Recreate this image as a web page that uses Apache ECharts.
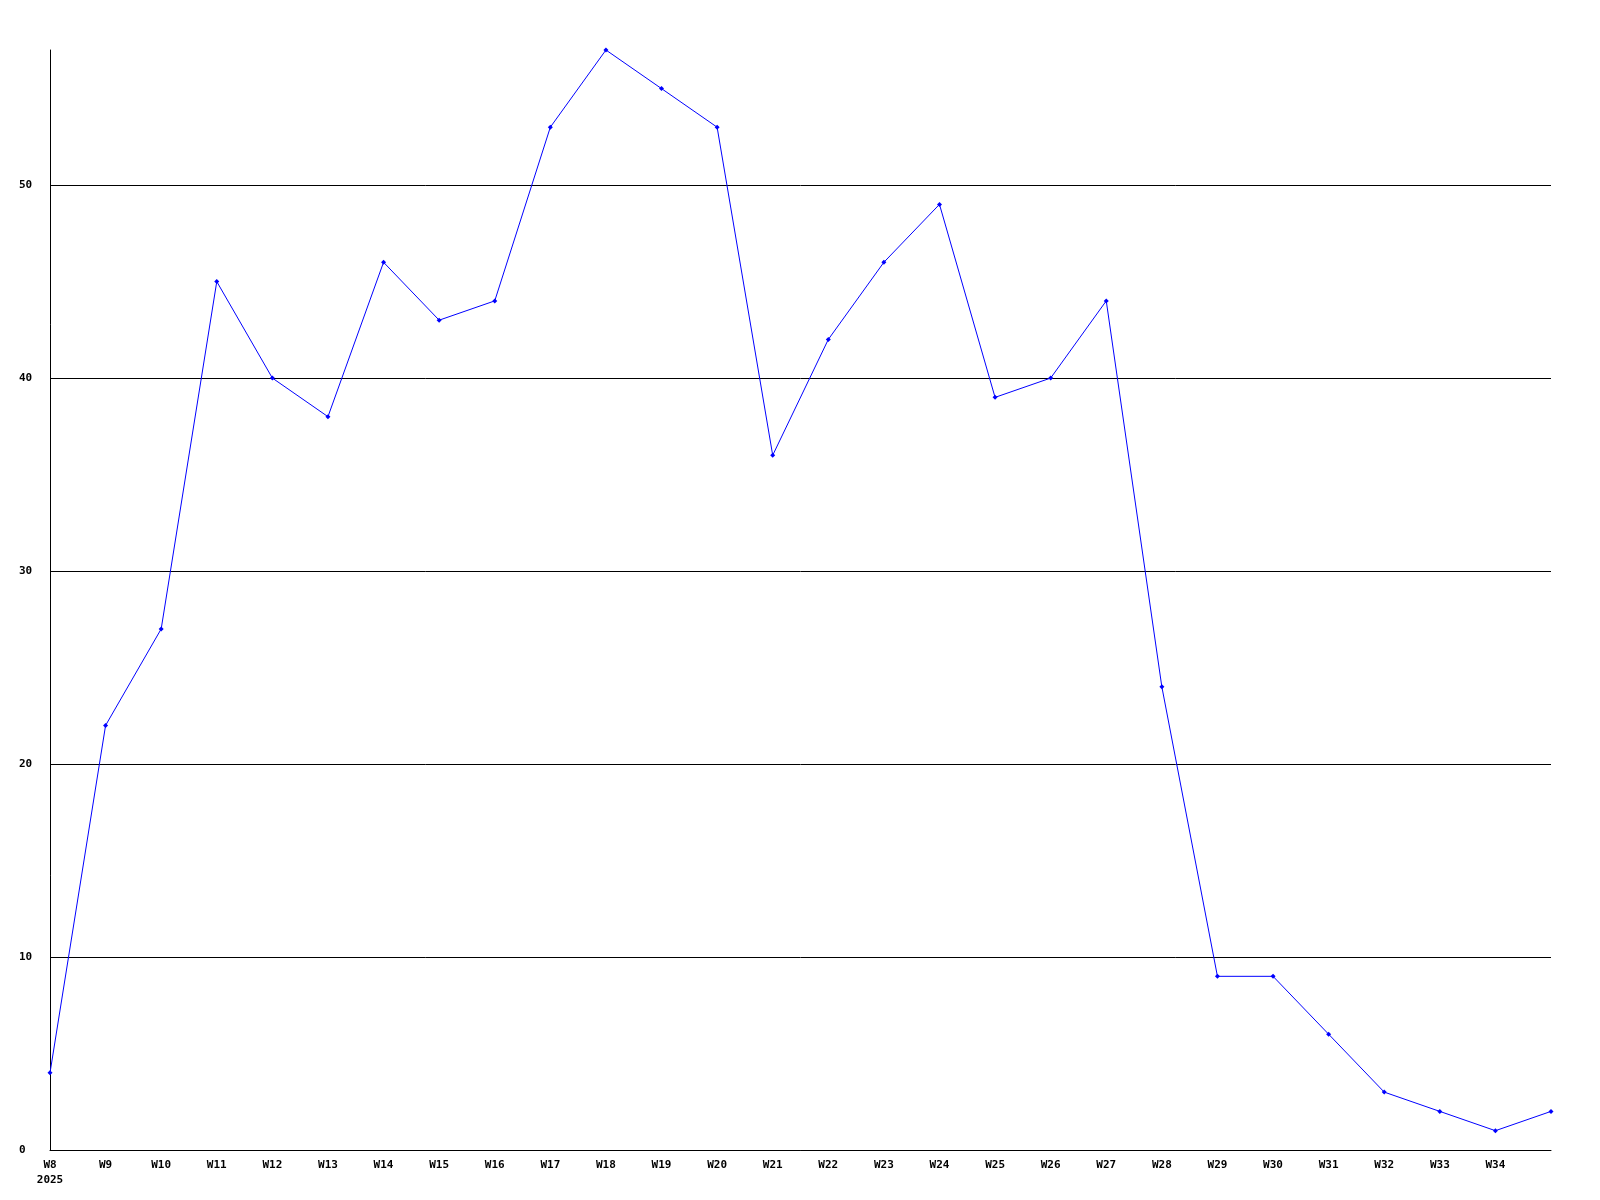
<!DOCTYPE html>
<html><head><meta charset="utf-8">
<script src="https://cdn.jsdelivr.net/npm/echarts@6/dist/echarts.min.js"></script>
<style>html,body{margin:0;padding:0;background:#fff}#c{width:1600px;height:1200px}</style>
</head><body><div id="c"></div>
<script>
const categories = ['W8','W9','W10','W11','W12','W13','W14','W15','W16','W17','W18','W19','W20','W21','W22','W23','W24','W25','W26','W27','W28','W29','W30','W31','W32','W33','W34','W35'];
const values = [4,22,27,45,40,38,46,43,44,53,57,55,53,36,42,46,49,39,40,44,24,9,9,6,3,2,1,2];
const yearLabel = '2025';
const yTicks = [0,10,20,30,40,50];

const font = {fontFamily:'"DejaVu Sans Mono", monospace', fontWeight:'bold', fontSize:11, color:'#000'};
const chart = echarts.init(document.getElementById('c'));
chart.setOption({
  animation:false,
  backgroundColor:'#fff',
  grid:{left:50, right:49, top:50, bottom:50, containLabel:false},
  xAxis:{type:'category', data:categories, boundaryGap:false,
    axisLine:{lineStyle:{color:'#000', width:1}}, axisTick:{show:false},
    axisLabel:Object.assign({}, font, {interval:0, margin:8, lineHeight:15,
      formatter:(v,i)=> i===0 ? v+'\n'+yearLabel : (i===categories.length-1 ? '' : v)}),
    splitLine:{show:false}},
  yAxis:{type:'value', min:0, max:57, interval:10,
    axisLine:{show:true, lineStyle:{color:'#000', width:1}}, axisTick:{show:false},
    axisLabel:Object.assign({}, font, {align:'left', margin:31, showMaxLabel:false,
      formatter:v=> yTicks.includes(v) ? String(v) : ''}),
    splitLine:{show:true, showMaxLine:false, lineStyle:{color:'#000', width:1}}},
  series:[{type:'line', data:values, symbol:'diamond', symbolSize:5, showSymbol:true,
    lineStyle:{color:'#0000ff', width:1}, itemStyle:{color:'#0000ff'}}]
});
</script></body></html>
